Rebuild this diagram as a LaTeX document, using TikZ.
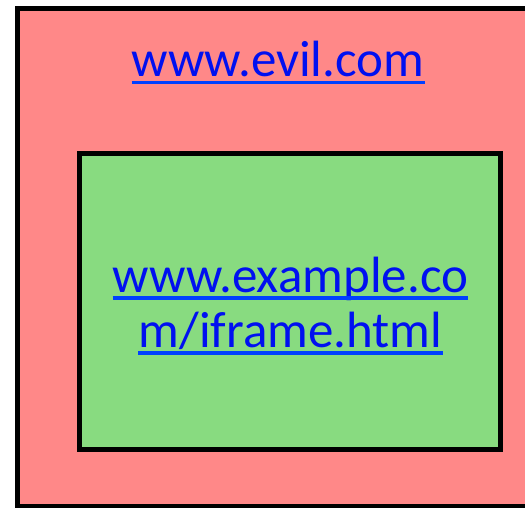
\documentclass[tikz,border=0pt]{standalone}
\usepackage{fontspec}
\setmainfont{Carlito}
\definecolor{outerred}{HTML}{FF8888}
\definecolor{innergreen}{HTML}{88DB80}
\definecolor{linkblue}{HTML}{0010F0}
\definecolor{ulblue}{HTML}{0040FF}
\begin{document}
\begin{tikzpicture}[x=1pt,y=-1pt,
  frame/.style={draw=black,line width=5pt},
  link/.style={text=linkblue,inner sep=0pt,anchor=base,font=\fontsize{51}{53}\selectfont},
  uline/.style={draw=ulblue,line width=3.5pt}]
\useasboundingbox (0,0) rectangle (525,508);
\begin{scope}
  \clip (0,0) rectangle (525,508);
  % outer page
  \draw[frame,fill=outerred] (17.5,8.5) rectangle (540,506.5);
  % embedded frame
  \draw[frame,fill=innergreen] (79.5,154) rectangle (500,449.5);
\end{scope}
% addresses
\node[link] (evil) at (278,77) {www.evil.com};
\draw[uline] ([yshift=-5.5pt]evil.base west) -- ([yshift=-5.5pt]evil.base east);
\node[link] (ex1) at (290.5,292) {www.example.co};
\draw[uline] ([yshift=-6pt]ex1.base west) -- ([yshift=-6pt]ex1.base east);
\node[link] (ex2) at (290.5,347) {m/iframe.html};
\draw[uline] ([yshift=-6pt]ex2.base west) -- ([yshift=-6pt]ex2.base east);
\end{tikzpicture}
\end{document}
